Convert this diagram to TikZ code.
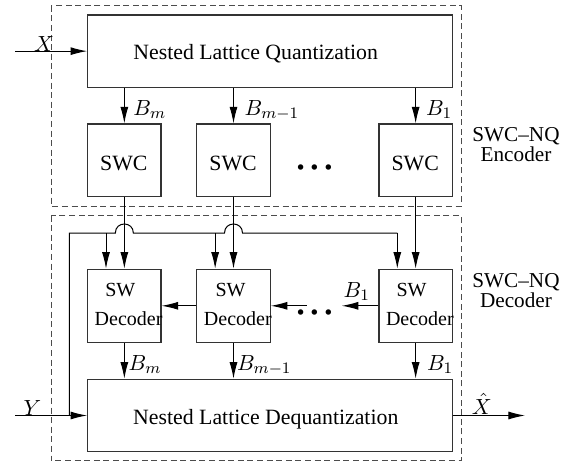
\documentclass[tikz,border=0pt]{standalone}
\usepackage[no-math]{fontspec}
\setmainfont{Liberation Serif}
\usetikzlibrary{arrows.meta,calc}
\begin{document}
\begin{tikzpicture}[x=0.5pt,y=-0.5pt,
  box/.style={draw=black!80, line width=0.6pt, inner sep=0pt},
  conn/.style={draw=black, line width=0.5pt},
  arr/.style={conn, -{Latex[length=8.3pt,width=4pt]}},
  frame/.style={draw=black!70, line width=0.5pt, dash pattern=on 3pt off 1.8pt},
  txt/.style={inner sep=0pt, anchor=base, font=\fontsize{10.9}{13}\selectfont},
  small/.style={inner sep=0pt, anchor=base, font=\fontsize{10}{12}\selectfont},
  side/.style={inner sep=0pt, align=center, font=\fontsize{10.6}{10}\selectfont},
  mlab/.style={inner sep=0pt, anchor=base west, font=\fontsize{10.9}{13}\selectfont},
  dots/.style={inner sep=0pt, font=\fontsize{6}{6}\selectfont},
]
\useasboundingbox (0,0) rectangle (579,466);

% dashed frames
\draw[frame] (51,5.7) rectangle (461,206);
\draw[frame] (51,215.5) rectangle (461,460.7);

% boxes
\node[box, minimum width=182.3pt, minimum height=36.15pt] (quant) at (270,51.15) {};
\node[box, minimum width=36.65pt, minimum height=36.35pt] (swc1) at (124.35,160.35) {};
\node[box, minimum width=36.65pt, minimum height=36.35pt] (swc2) at (233.5,160.35) {};
\node[box, minimum width=36.65pt, minimum height=36.35pt] (swc3) at (415.65,160.35) {};
\node[box, minimum width=36.65pt, minimum height=36.5pt] (dec1) at (124.35,305.8) {};
\node[box, minimum width=36.65pt, minimum height=36.5pt] (dec2) at (233.5,305.8) {};
\node[box, minimum width=36.65pt, minimum height=36.5pt] (dec3) at (415.65,305.8) {};
\node[box, minimum width=182.3pt, minimum height=36.2pt] (dequant) at (270,415.5) {};

% box texts
\node[txt] (quanttxt) at (255.7,59.5) {Nested Lattice Quantization};
\node[txt] (dequanttxt) at (265.8,424.5) {Nested Lattice Dequantization};
\node[txt] (swc1txt) at (123.8,170) {SWC};
\node[txt] (swc2txt) at (233,170) {SWC};
\node[txt] (swc3txt) at (415.2,170) {SWC};
\node[small] (dec1a) at (120.3,296.7) {SW};
\node[small] (dec1b) at (128.6,325) {Decoder};
\node[small] (dec2a) at (230.5,296.7) {SW};
\node[small] (dec2b) at (237.8,325) {Decoder};
\node[small] (dec3a) at (411.6,296.7) {SW};
\node[small] (dec3b) at (419.9,325) {Decoder};

% side labels
\node[side] (enclab) at (516,145) {SWC--NQ\\Encoder};
\node[side] (declab) at (516,290.3) {SWC--NQ\\Decoder};

% input / output
\coordinate (xin) at (15,51.15);
\draw[arr] (xin) -- (quant.west);
\node[txt] (xlab) at (44,51.5) {$X$};

\coordinate (yin) at (15,415.5);
\draw[arr] (yin) -- (dequant.west);
\node[txt] (ylab) at (32.5,415) {$Y$};

\coordinate (xout) at (525,415.5);
\draw[arr] (dequant.east) -- (xout);
\node[txt] (xhatlab) at (481.7,414) {$\hat{X}$};

% encoder arrows
\draw[arr] (swc1.north |- quant.south) -- (swc1.north);
\draw[arr] (swc2.north |- quant.south) -- (swc2.north);
\draw[arr] (swc3.north |- quant.south) -- (swc3.north);
\node[mlab] (bm1) at (133,115) {$B_m$};
\node[mlab] (bm2) at (244.3,115) {$B_{m-1}$};
\node[mlab] (bm3) at (425.7,115) {$B_1$};
\node[dots] (encdots) at (314.5,167.2) {$\bullet$\hspace{3.1pt}$\bullet$\hspace{3.1pt}$\bullet$};

% SWC outputs to decoders
\draw[arr] (swc1.south) -- (dec1.north);
\draw[arr] (swc2.south) -- (dec2.north);
\draw[arr] (swc3.south) -- (dec3.north);

% side information line with hops
\coordinate (yj) at (69.3,415.5);
\coordinate (ytop) at (69.3,233);
\draw[conn] (yj) -- (ytop)
  -- ($(swc1.south |- ytop)+(-9,0)$)
  .. controls ($(swc1.south |- ytop)+(-9,-12)$) and ($(swc1.south |- ytop)+(9,-12)$) .. ($(swc1.south |- ytop)+(9,0)$)
  -- ($(swc2.south |- ytop)+(-9,0)$)
  .. controls ($(swc2.south |- ytop)+(-9,-12)$) and ($(swc2.south |- ytop)+(9,-12)$) .. ($(swc2.south |- ytop)+(9,0)$)
  -- ($(dec3.north |- ytop)+(-18.35,0)$);
\draw[arr] ($(dec3.north |- ytop)+(-18.35,0)$) -- ([xshift=-9.175pt]dec3.north);
\draw[arr] ($(dec1.north |- ytop)+(-18.35,0)$) -- ([xshift=-9.175pt]dec1.north);
\draw[arr] ($(dec2.north |- ytop)+(-18.35,0)$) -- ([xshift=-9.175pt]dec2.north);

% decoder chain
\draw[arr] (dec2.west) -- (dec1.east);
\coordinate (dotsR) at (341.7,305.8);
\coordinate (dotsL) at (306.7,305.8);
\draw[arr] (dec3.west) -- (dotsR);
\draw[arr] (dotsL) -- (dec2.east);
\node[dots] (decdots) at (314.5,312.5) {$\bullet$\hspace{3.1pt}$\bullet$\hspace{3.1pt}$\bullet$};
\node[mlab] (b1mid) at (343.3,297.3) {$B_1$};

% decoder outputs
\draw[arr] (dec1.south) -- (dec1.south |- dequant.north);
\draw[arr] (dec2.south) -- (dec2.south |- dequant.north);
\draw[arr] (dec3.south) -- (dec3.south |- dequant.north);
\node[mlab] (bd1) at (128.3,370) {$B_m$};
\node[mlab] (bd2) at (236.7,370) {$B_{m-1}$};
\node[mlab] (bd3) at (426.7,370) {$B_1$};
\end{tikzpicture}
\end{document}
